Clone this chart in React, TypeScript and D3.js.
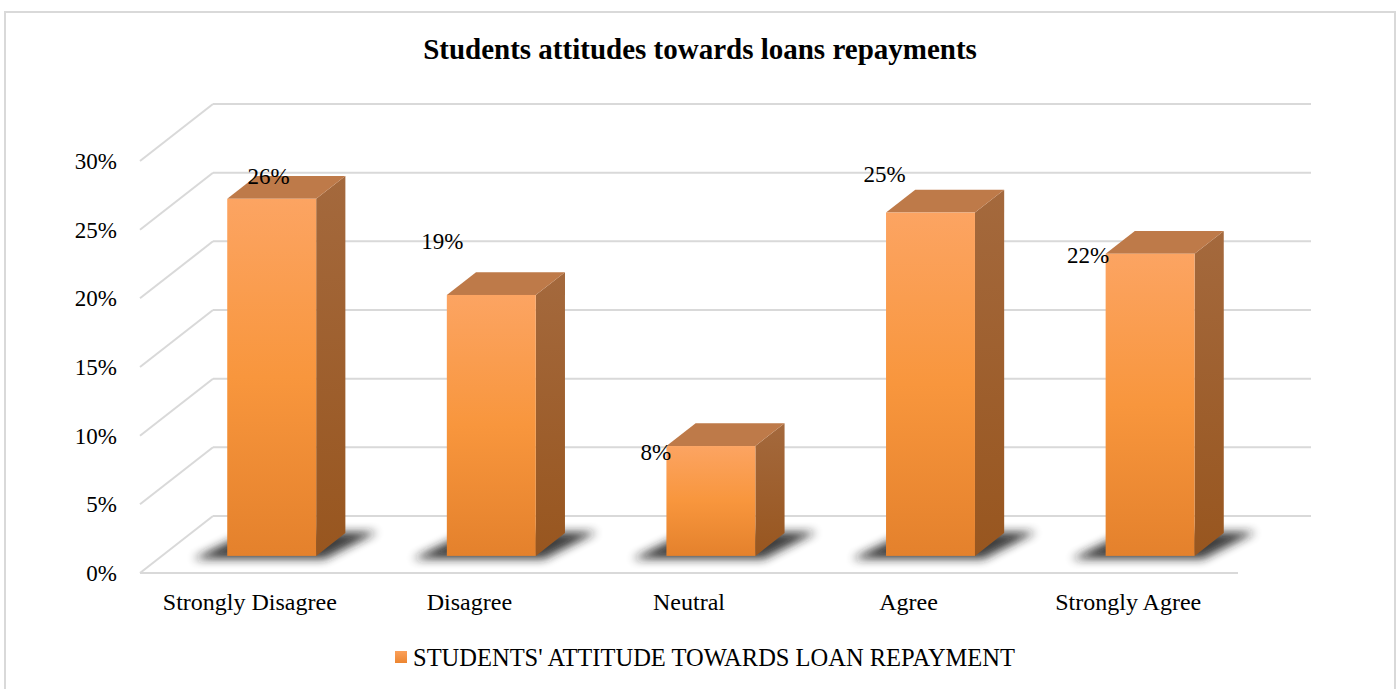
import React from "react";
import * as d3 from "d3";

const categories = ["Strongly Disagree", "Disagree", "Neutral", "Agree", "Strongly Agree"];
const values = [0.26, 0.19, 0.08, 0.25, 0.22];
const valueLabels = ["26%", "19%", "8%", "25%", "22%"];
const tickValues = [0, 0.05, 0.1, 0.15, 0.2, 0.25, 0.3];
const labelNudgeX = [-3, -49, -55, -46, -62];
const labelNudgeY = [-23, -54, 6, -39, 1];
const title = "Students attitudes towards loans repayments";
const legendLabel = "STUDENTS' ATTITUDE TOWARDS LOAN REPAYMENT";

const W = 1400;
const H = 689;
const FONT = "'Liberation Serif', 'Times New Roman', serif";

export default function App() {
  const x = d3.scaleBand<string>().domain(categories).range([140, 1238]);
  const y = d3.scaleLinear().domain([0, 0.3]).range([573, 161]);
  const DX = 73;
  const DY = -57;
  const t0 = 0.3;
  const t1 = 0.7;
  const bw = x.bandwidth();
  const barW = bw * 0.405;
  const fmt = d3.format(".0%");

  return (
    <div style={{ position: "fixed", left: 0, top: 0, width: W, height: H, background: "#fff" }}>
      <svg width={W} height={H} style={{ display: "block" }} fontFamily={FONT}>
        <defs>
          <linearGradient id="front" x1="0" y1="0" x2="0" y2="1">
            <stop offset="0" stopColor="#FCA462" />
            <stop offset="0.5" stopColor="#F8963D" />
            <stop offset="1" stopColor="#E4812C" />
          </linearGradient>
          <linearGradient id="side" x1="0" y1="0" x2="0" y2="1">
            <stop offset="0" stopColor="#A4693D" />
            <stop offset="1" stopColor="#98561F" />
          </linearGradient>
          <linearGradient id="legendSq" x1="0" y1="0" x2="0" y2="1">
            <stop offset="0" stopColor="#FBA05A" />
            <stop offset="1" stopColor="#EC8530" />
          </linearGradient>
          <filter id="blur" x="-50%" y="-100%" width="200%" height="300%">
            <feGaussianBlur stdDeviation="5" />
          </filter>
        </defs>
        <rect x={5} y={12} width={1390} height={700} fill="#fff" stroke="#D9D9D9" strokeWidth={2} />
        <text x={700} y={59} textAnchor="middle" fontWeight="bold" fontSize={29} fill="#000">
          {title}
        </text>
        {tickValues.map((v) => (
          <g key={v}>
            <line x1={140 + DX} x2={1238 + DX} y1={y(v) + DY} y2={y(v) + DY} stroke="#D9D9D9" strokeWidth={2} />
            <line x1={140} x2={140 + DX} y1={y(v)} y2={y(v) + DY} stroke="#D9D9D9" strokeWidth={2} />
            <text x={117} y={y(v)} dy="0.35em" textAnchor="end" fontSize={23} fill="#000">
              {fmt(v)}
            </text>
          </g>
        ))}
        <line x1={140} x2={1238} y1={y(0)} y2={y(0)} stroke="#D9D9D9" strokeWidth={2} />
        {categories.map((c) => {
          const fx = (x(c) as number) + (bw - barW) / 2;
          const ax = fx + t0 * DX;
          const ay0 = y(0) + t0 * DY;
          const ddx = (t1 - t0) * DX;
          const ddy = (t1 - t0) * DY;
          const pts = [
            [ax - 34, ay0 + 3],
            [ax + barW + 8, ay0 + 3],
            [ax + barW + ddx + 32, ay0 + ddy - 1],
            [ax + ddx - 8, ay0 + ddy - 1],
          ];
          return (
            <polygon key={"s" + c} points={pts.map((p) => p.join(",")).join(" ")} fill="#1a1a1a" opacity={0.85} filter="url(#blur)" />
          );
        })}
        {categories.map((c, i) => {
          const v = values[i];
          const fx = (x(c) as number) + (bw - barW) / 2;
          const ax = fx + t0 * DX;
          const ay0 = y(0) + t0 * DY;
          const ay1 = y(v) + t0 * DY;
          const ddx = (t1 - t0) * DX;
          const ddy = (t1 - t0) * DY;
          const side = [
            [ax + barW, ay1],
            [ax + barW + ddx, ay1 + ddy],
            [ax + barW + ddx, ay0 + ddy],
            [ax + barW, ay0],
          ];
          const top = [
            [ax, ay1],
            [ax + ddx, ay1 + ddy],
            [ax + barW + ddx, ay1 + ddy],
            [ax + barW, ay1],
          ];
          return (
            <g key={"b" + c}>
              <polygon points={side.map((p) => p.join(",")).join(" ")} fill="url(#side)" />
              <polygon points={top.map((p) => p.join(",")).join(" ")} fill="#BE7A49" />
              <rect x={ax} y={ay1} width={barW} height={ay0 - ay1} fill="url(#front)" />
            </g>
          );
        })}
        {categories.map((c, i) => {
          const cx = (x(c) as number) + bw / 2 + t0 * DX;
          const ty = y(values[i]) + t0 * DY;
          return (
            <text key={"l" + c} x={cx + labelNudgeX[i]} y={ty + labelNudgeY[i]} dy="0.35em" textAnchor="middle" fontSize={23} fill="#000">
              {valueLabels[i]}
            </text>
          );
        })}
        {categories.map((c) => (
          <text key={"c" + c} x={(x(c) as number) + bw / 2} y={602} dy="0.35em" textAnchor="middle" fontSize={24} fill="#000">
            {c}
          </text>
        ))}
        <rect x={395} y={651} width={12} height={12} fill="url(#legendSq)" />
        <text x={413} y={657} dy="0.35em" fontSize={24.5} fill="#000">
          {legendLabel}
        </text>
      </svg>
    </div>
  );
}
